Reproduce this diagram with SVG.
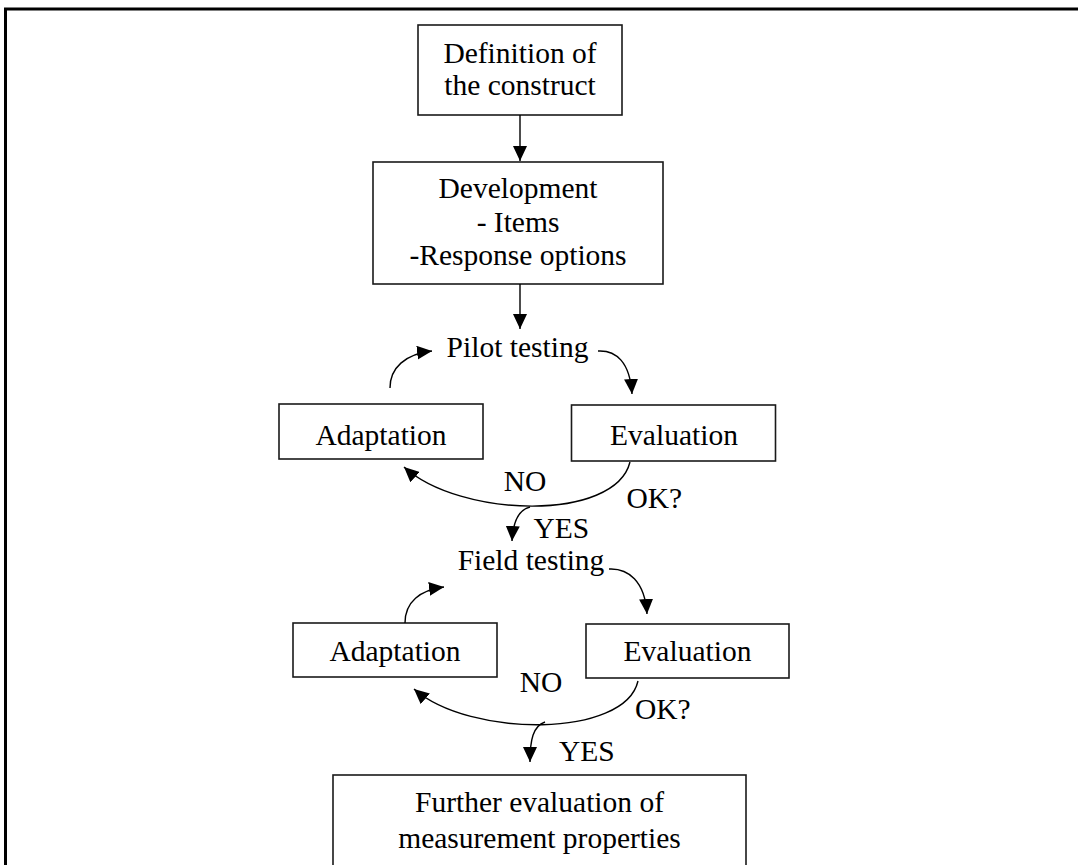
<svg xmlns="http://www.w3.org/2000/svg" width="1078" height="865" viewBox="0 0 1078 865">
<style>
.box{fill:#fff;stroke:#1a1a1a;stroke-width:1.6}
.t{font-family:"Liberation Serif","Times New Roman",serif;font-size:29.5px;fill:#000}
.m{text-anchor:middle}
.c{fill:none;stroke:#000;stroke-width:1.4}
</style>
<defs>
<marker id="ah" markerUnits="userSpaceOnUse" viewBox="0 0 15 14" refX="15" refY="7" markerWidth="15" markerHeight="14" orient="auto">
<path d="M0,0 L15,7 L0,14 z" fill="#000"/>
</marker>
</defs>
<rect width="1078" height="865" fill="#fff"/>
<path d="M5.5,865 V9 H1078" fill="none" stroke="#000" stroke-width="3"/>

<g id="n-definition">
<rect class="box" x="418" y="25" width="204" height="90"/>
<text class="t m" x="520" y="63">Definition of</text>
<text class="t m" x="520" y="95">the construct</text>
</g>
<g id="n-development">
<rect class="box" x="373" y="162" width="290" height="122"/>
<text class="t m" x="518" y="198">Development</text>
<text class="t m" x="518" y="232">- Items</text>
<text class="t m" x="518" y="265">-Response options</text>
</g>
<g id="n-pilot">
<text class="t m" x="517.5" y="357">Pilot testing</text>
</g>
<g id="n-adaptation1">
<rect class="box" x="279" y="404" width="204" height="55"/>
<text class="t m" x="381" y="444.5">Adaptation</text>
</g>
<g id="n-evaluation1">
<rect class="box" x="571.5" y="405" width="204" height="56"/>
<text class="t m" x="674" y="444.5">Evaluation</text>
</g>
<g id="n-field">
<text class="t m" x="531" y="570">Field testing</text>
</g>
<g id="n-adaptation2">
<rect class="box" x="293" y="623" width="204" height="54"/>
<text class="t m" x="395" y="661">Adaptation</text>
</g>
<g id="n-evaluation2">
<rect class="box" x="586" y="624" width="203" height="54"/>
<text class="t m" x="687.5" y="661">Evaluation</text>
</g>
<g id="n-further">
<rect class="box" x="333" y="775" width="413" height="110"/>
<text class="t m" x="539.5" y="812">Further evaluation of</text>
<text class="t m" x="539.5" y="848">measurement properties</text>
</g>

<g id="connectors">
<path class="c" d="M520,115 V161" marker-end="url(#ah)"/>
<path class="c" d="M520,284 V329" marker-end="url(#ah)"/>
<path class="c" d="M390,388 C390,368 405,354 432,351" marker-end="url(#ah)"/>
<path class="c" d="M598,351 C616,350 630,362 632,394" marker-end="url(#ah)"/>
<path class="c" d="M630,462 C615,522 460,518 404,467" marker-end="url(#ah)"/>
<path class="c" d="M530,507 C518,510 513,522 512,541" marker-end="url(#ah)"/>
<path class="c" d="M405,623 C405,602 420,590 444,587" marker-end="url(#ah)"/>
<path class="c" d="M609,569 C628,568 645,581 647,614" marker-end="url(#ah)"/>
<path class="c" d="M638,681 C625,738 470,738 414,689" marker-end="url(#ah)"/>
<path class="c" d="M545,722 C533,726 530,740 530,762" marker-end="url(#ah)"/>
</g>
<g id="labels">
<text class="t m" x="525" y="491">NO</text>
<text class="t" x="626.5" y="508">OK?</text>
<text class="t" x="533.5" y="538">YES</text>
<text class="t m" x="541" y="692">NO</text>
<text class="t" x="635" y="719">OK?</text>
<text class="t" x="559" y="761">YES</text>
</g>
</svg>
